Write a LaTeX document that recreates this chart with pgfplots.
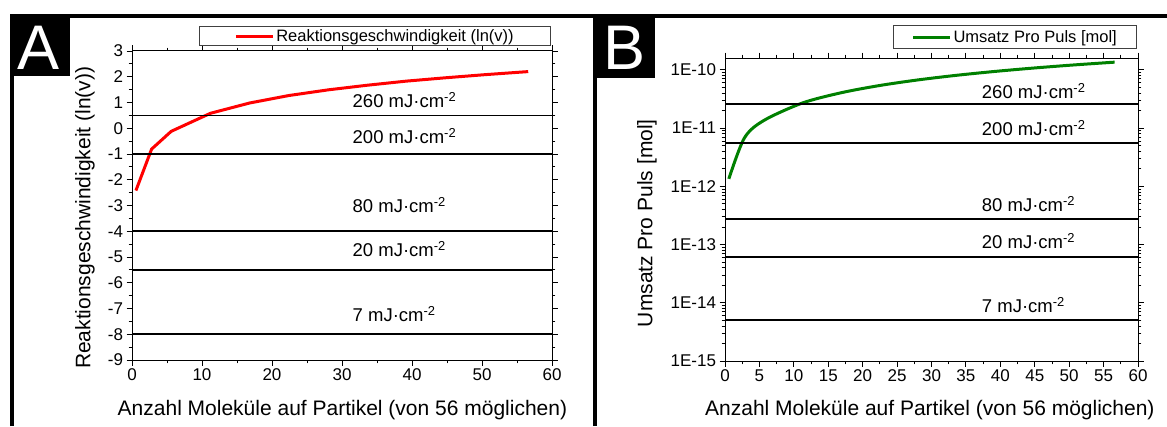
\documentclass[border=0pt]{standalone}
\usepackage{pgfplots}
\pgfplotsset{compat=1.18}
\usepackage{fontspec}
\setmainfont{Liberation Sans}

\pgfplotsset{
  panel/.style={
    scale only axis,
    axis line style={line width=1pt},
    tick align=outside,
    major tick length=5.5pt,
    minor tick length=3.3pt,
    every tick/.append style={black, line width=0.9pt},
    /pgf/number format/assume math mode=true,
    tick label style={font=\fontsize{17}{20}\selectfont},
    label style={font=\fontsize{21}{25}\selectfont},
    legend style={font=\fontsize{16.5}{20}\selectfont, draw=black!75,
      line width=0.8pt, inner ysep=1pt, legend cell align=left},
    legend image code/.code={\draw[#1] (0pt,0pt) -- (37pt,0pt);},
    xmin=0, xmax=60,
  },
  level/.style={black, line width=1.7pt, forget plot},
}
\tikzset{elabel/.style={font=\fontsize{18.5}{22}\selectfont, anchor=base west, inner sep=0pt}}

\begin{document}
\begin{tikzpicture}
\useasboundingbox (0pt,0pt) rectangle (1167pt,426pt);

% panel A
\begin{axis}[panel,
  at={(132pt,66pt)}, anchor=south west,
  width=420pt, height=309pt,
  ymin=-9, ymax=3,
  xtick={0,10,...,60}, minor x tick num=1,
  ytick={-9,-8,...,3}, minor y tick num=1,
  xlabel={Anzahl Moleküle auf Partikel (von 56 möglichen)},
  ylabel={Reaktionsgeschwindigkeit (ln(v))},
  xlabel style={at={(axis description cs:0.501,-0.162)}, anchor=center},
  ylabel style={at={(axis description cs:-0.112,0.46)}, anchor=center},
  legend style={at={(axis description cs:0.998,1.081)}, anchor=north east, inner xsep=35pt},
]
\addplot[red, line width=3pt] coordinates {
(0.56,-2.42) (2.8,-0.81) (5.6,-0.12) (11.2,0.58) (16.8,0.98) (22.4,1.27)
(28,1.49) (33.6,1.67) (39.2,1.83) (44.8,1.96) (50.4,2.08) (56.6,2.20)};
\addlegendentry{Reaktionsgeschwindigkeit (ln(v))}
\addplot[level] coordinates {(0,0.5) (60,0.5)};
\addplot[level] coordinates {(0,-1) (60,-1)};
\addplot[level] coordinates {(0,-4) (60,-4)};
\addplot[level] coordinates {(0,-5.5) (60,-5.5)};
\addplot[level] coordinates {(0,-8) (60,-8)};
\node[elabel] at (axis cs:31.5,0.81) {260 mJ·cm\textsuperscript{-2}};
\node[elabel] at (axis cs:31.5,-0.585) {200 mJ·cm\textsuperscript{-2}};
\node[elabel] at (axis cs:31.5,-3.28) {80 mJ·cm\textsuperscript{-2}};
\node[elabel] at (axis cs:31.5,-4.99) {20 mJ·cm\textsuperscript{-2}};
\node[elabel] at (axis cs:31.5,-7.51) {7 mJ·cm\textsuperscript{-2}};
\end{axis}

% panel B
\begin{axis}[panel,
  at={(725pt,65pt)}, anchor=south west,
  width=413pt, height=303pt,
  ymode=log, ymin=1e-15, ymax=1.6e-10,
  xtick={0,5,...,60}, minor x tick num=1,
  ytick={1e-15,1e-14,1e-13,1e-12,1e-11,1e-10},
  yticklabels={1E-15,1E-14,1E-13,1E-12,1E-11,1E-10},
  xlabel={Anzahl Moleküle auf Partikel (von 56 möglichen)},
  ylabel={Umsatz Pro Puls [mol]},
  xlabel style={at={(axis description cs:0.496,-0.162)}, anchor=center},
  ylabel style={at={(axis description cs:-0.189,0.455)}, anchor=center},
  legend style={at={(axis description cs:0.998,1.109)}, anchor=north east, inner xsep=18pt, inner ysep=3pt},
]
\addplot[color={rgb,255:red,0;green,128;blue,0}, line width=3pt, smooth] coordinates {
(0.56,1.344e-12) (2.8,6.72e-12) (5.6,1.344e-11) (11.2,2.688e-11) (16.8,4.032e-11)
(22.4,5.376e-11) (28,6.72e-11) (33.6,8.064e-11) (39.2,9.408e-11) (44.8,1.0752e-10)
(50.4,1.2096e-10) (56.6,1.358e-10)};
\addlegendentry{Umsatz Pro Puls [mol]}
\addplot[level] coordinates {(0,2.57e-11) (60,2.57e-11)};
\addplot[level] coordinates {(0,5.6e-12) (60,5.6e-12)};
\addplot[level] coordinates {(0,2.75e-13) (60,2.75e-13)};
\addplot[level] coordinates {(0,6.2e-14) (60,6.2e-14)};
\addplot[level] coordinates {(0,5.0e-15) (60,5.0e-15)};
\node[elabel] at (axis cs:37.3,3.18e-11) {260 mJ·cm\textsuperscript{-2}};
\node[elabel] at (axis cs:37.3,7.44e-12) {200 mJ·cm\textsuperscript{-2}};
\node[elabel] at (axis cs:37.3,3.67e-13) {80 mJ·cm\textsuperscript{-2}};
\node[elabel] at (axis cs:37.3,8.4e-14) {20 mJ·cm\textsuperscript{-2}};
\node[elabel] at (axis cs:37.3,6.76e-15) {7 mJ·cm\textsuperscript{-2}};
\end{axis}

% frame and panel letters
\draw[line width=4pt] (10pt,410pt) -- (1167pt,410pt);
\draw[line width=4pt] (12pt,0pt) -- (12pt,412pt);
\draw[line width=4pt] (595pt,0pt) -- (595pt,412pt);
\fill (10pt,350pt) rectangle (70pt,412pt);
\fill (593pt,348pt) rectangle (655pt,412pt);
\node[anchor=base, text=white, inner sep=0pt, font=\fontsize{63}{70}\selectfont] at (38.5pt,356pt) {A};
\node[anchor=base, text=white, inner sep=0pt, font=\fontsize{63}{70}\selectfont] at (625pt,356pt) {B};
\end{tikzpicture}
\end{document}
